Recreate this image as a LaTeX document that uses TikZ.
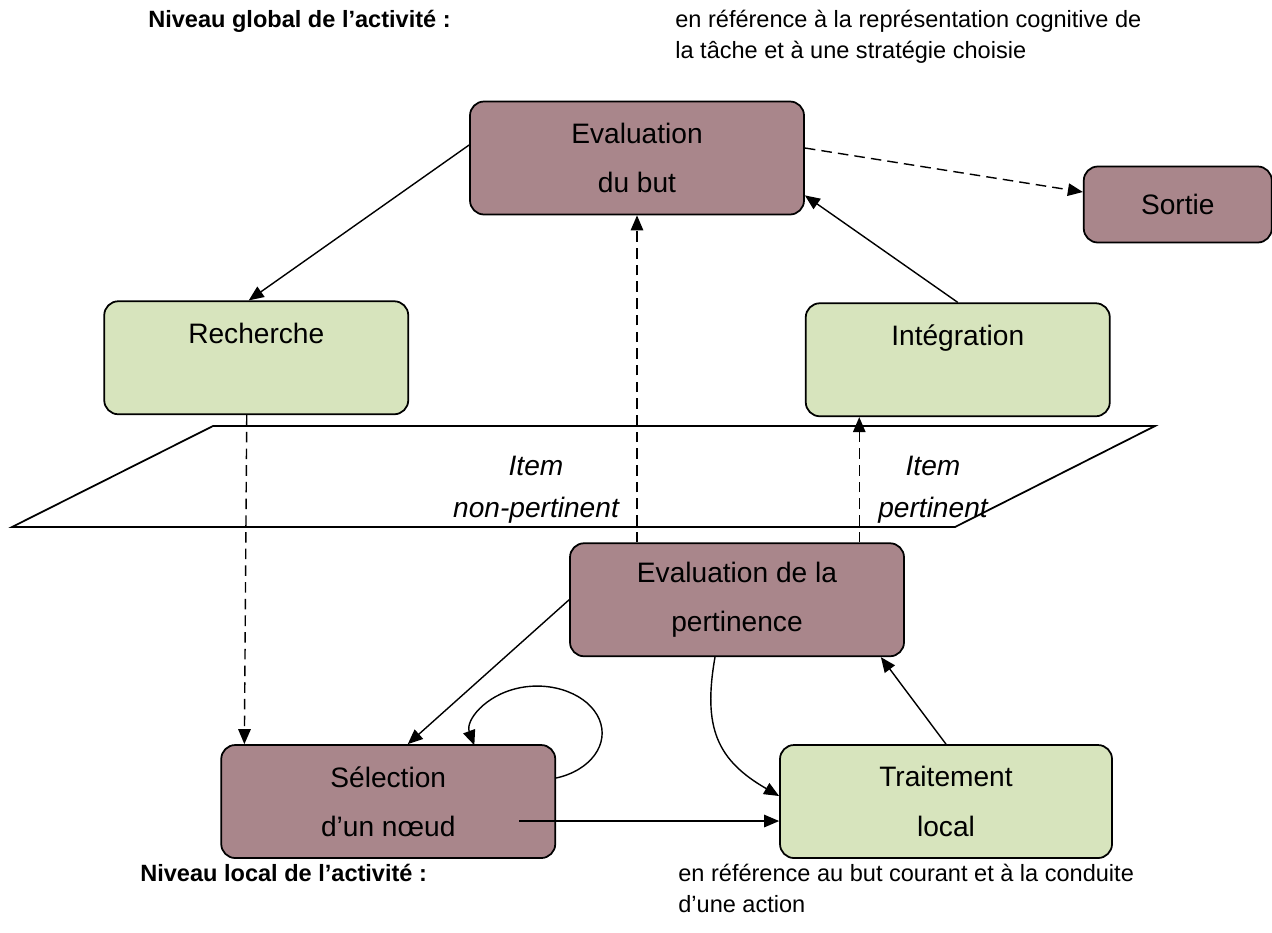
\documentclass[tikz,border=0pt]{standalone}
\usepackage{fontspec}
\setmainfont{Liberation Sans}
\usepackage{tikz}
\usetikzlibrary{arrows.meta, positioning}
\definecolor{mauvebox}{HTML}{A9868B}
\definecolor{olivebox}{HTML}{D7E4BD}
\tikzset{
    box/.style={rectangle, draw=black, line width=1pt, rounded corners=8pt, minimum width=6.68cm, minimum height=2.26cm, align=center, font=\fontsize{16}{28}\selectfont},
    mauvebox/.style={box, fill=mauvebox},
    olivebox/.style={box, fill=olivebox, minimum width=6.08cm},
    arrow/.style={-{Triangle[length=3mm, width=2.5mm]}, line width=0.8pt, draw=black},
    dashedarrow/.style={arrow, dash pattern=on 6pt off 3.5pt},
    note/.style={anchor=base west, align=left, inner sep=0pt, font=\fontsize{13.4}{17.6}\selectfont},
    itemtxt/.style={align=center, inner sep=0pt, font=\fontsize{16}{23.8}\selectfont\itshape}
}

\begin{document}
\begin{tikzpicture}[node distance=0.5cm]
                \useasboundingbox (0,0) rectangle (25.44,-18.64);
                % plan separating the two levels
                \draw[line width=1pt, fill=white] (4.26,-8.52) -- (23.1,-8.52) -- (19.1,-10.54) -- (0.24,-10.54) -- cycle;
                \node[itemtxt] (nonpert) at (10.72,-9.8) {Item\\non-pertinent};
                \node[itemtxt] (pert) at (18.66,-9.8) {Item\\pertinent};
                \node[mauvebox] (evalbut) at (12.74,-3.16) {Evaluation\\du but};
                \node[olivebox, below left=1.7cm and 1.2cm of evalbut] (recherche) {Recherche\\~};
                \node[olivebox, below right=1.74cm and 0cm of evalbut] (integ) {Intégration\\~};
                \node[mauvebox, right=5.56cm of evalbut, yshift=-0.93cm, minimum width=3.76cm, minimum height=1.52cm] (sortie) {Sortie};
                \node[mauvebox, below=6.54cm of evalbut, xshift=2cm] (evalpert) {Evaluation de la\\pertinence};
                \node[mauvebox, below left=1.74cm and 0.26cm of evalpert] (select) {Sélection\\d’un nœud};
                \node[olivebox, right=4.46cm of select, minimum width=6.64cm] (traitement) {Traitement\\local};
                % level captions (anchor = baseline of the last line)
                \node[note, font=\fontsize{13.4}{17.6}\selectfont\bfseries] (globtitle) at (2.96,-0.54) {Niveau global de l’activité :};
                \node[note] (globtxt) at (13.5,-1.16) {en référence à la représentation cognitive de\\la tâche et à une stratégie choisie};
                \node[note, font=\fontsize{13.4}{17.6}\selectfont\bfseries] (loctitle) at (2.8,-17.62) {Niveau local de l’activité :};
                \node[note] (loctxt) at (13.56,-18.24) {en référence au but courant et à la conduite\\d’une action};
                \coordinate (pin) at ([xshift=-1.97cm]integ.south);
                \draw[arrow] ([yshift=0.26cm]evalbut.west) -- ([xshift=-0.15cm]recherche.north);
                \draw[dashedarrow] ([yshift=0.2cm]evalbut.east) -- ([yshift=0.25cm]sortie.west);
                \draw[arrow] (integ.north) -- ([yshift=0.4cm]evalbut.south east);
                \draw[dashedarrow] ([xshift=-0.19cm]recherche.south) -- ([xshift=0.48cm]select.north west);
                \draw[dashedarrow] (evalpert.north -| evalbut.south) -- (evalbut.south);
                \draw[dashedarrow] (pin |- evalpert.north) -- (pin);
                \draw[arrow] (evalpert.west) -- ([xshift=0.39cm]select.north);
                \draw[arrow] ([yshift=0.47cm]select.east) arc[start angle=-73, end angle=195, x radius=1.3cm, y radius=0.94cm];
                \draw[arrow] ([xshift=-0.44cm]evalpert.south) to[out=-100, in=150, looseness=1.2] ([yshift=0.11cm]traitement.west);
                \draw[arrow] ([xshift=-0.74cm, yshift=-0.39cm]select.east) -- ([yshift=-0.39cm]traitement.west);
                \draw[arrow] (traitement.north) -- ([xshift=-0.48cm]evalpert.south east);
            \end{tikzpicture}
\end{document}
